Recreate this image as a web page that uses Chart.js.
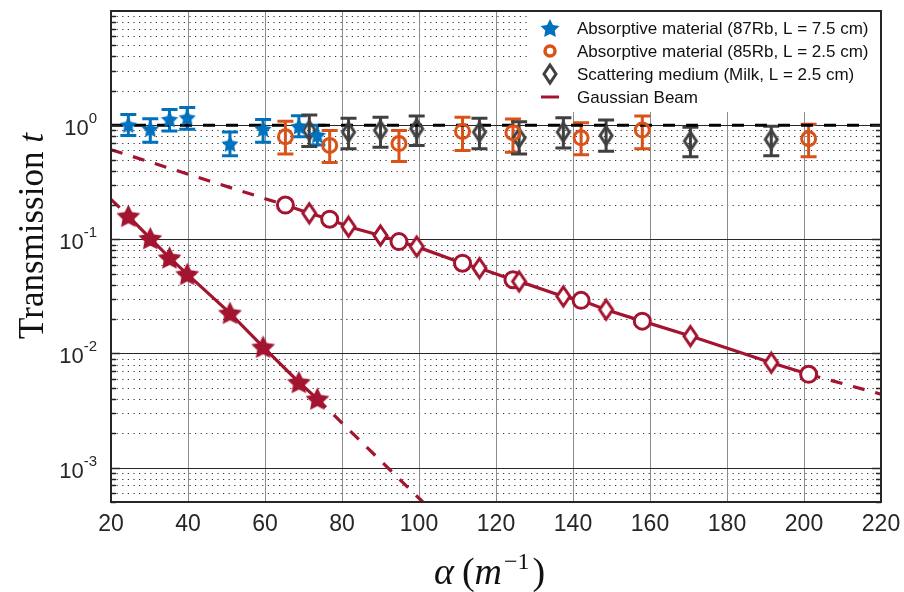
<!DOCTYPE html>
<html>
<head>
<meta charset="utf-8">
<script src="https://cdn.jsdelivr.net/npm/chart.js@4.4.0/dist/chart.umd.min.js"></script>
<style>
  html, body { margin: 0; padding: 0; background: #fff; }
</style>
</head>
<body>
<canvas id="myChart" width="904" height="592"></canvas>
<script>
// x values (alpha, m^-1) of each measurement set
const alpha87 = [24.5, 30.2, 35.2, 39.8, 50.9, 59.5, 68.8, 73.6];
const alpha85 = [65.3, 76.8, 94.8, 111.3, 124.4, 142.1, 158.0, 201.2];
const alphaMilk = [71.5, 81.7, 90.0, 99.4, 115.7, 126.0, 137.5, 148.6, 170.5, 191.5];

// measured transmission (normalised) with error bar bounds
const trans87 = [1.01, 0.93, 1.13, 1.17, 0.69, 0.93, 0.98, 0.82];
const low87 = [0.81, 0.71, 0.89, 0.92, 0.54, 0.71, 0.79, 0.67];
const high87 = [1.24, 1.14, 1.37, 1.43, 0.87, 1.12, 1.21, 1.00];

const trans85 = [0.79, 0.665, 0.69, 0.88, 0.86, 0.775, 0.905, 0.76];
const low85 = [0.56, 0.47, 0.48, 0.60, 0.58, 0.55, 0.62, 0.53];
const high85 = [1.08, 0.90, 0.90, 1.17, 1.13, 1.05, 1.20, 1.02];

const transMilk = [0.90, 0.87, 0.90, 0.93, 0.87, 0.775, 0.87, 0.81, 0.725, 0.75];
const lowMilk = [0.65, 0.62, 0.64, 0.665, 0.62, 0.56, 0.63, 0.59, 0.53, 0.54];
const highMilk = [1.23, 1.15, 1.17, 1.20, 1.15, 1.07, 1.16, 1.11, 0.96, 0.98];

// gaussian beam transmission at the same alphas
const gauss87 = [0.16, 0.102, 0.069, 0.0495, 0.0226, 0.0114, 0.0056, 0.0040];
const gauss85 = [0.1995, 0.150, 0.0955, 0.0618, 0.0443, 0.0292, 0.0192, 0.00657];
const gaussMilk = [0.169, 0.129, 0.108, 0.0863, 0.0559, 0.0428, 0.0316, 0.0242, 0.0142, 0.0083];

// dashed extensions of the gaussian curves (null = gap under the solid part)
const fit87X = [20, 24.5, 50, 73.6, 101];
const fit87Y = [0.224, 0.16, null, 0.0040, 0.0005];
const fit85X = [20, 65.3, 130, 201.2, 220];
const fit85Y = [0.61, 0.1995, null, 0.00657, 0.0044];

// reference line t = 1
const unityX = [20, 220];
const unityY = [1, 1];

const xTicks = [20, 40, 60, 80, 100, 120, 140, 160, 180, 200, 220];
const yDecades = [-3, -2, -1, 0];

const BLUE = '#0072BD';
const ORANGE = '#D95319';
const GREY = '#404040';
const RED = '#A2142F';

const pts = (xs, ys) => xs.map((x, i) => ({ x: x, y: ys[i] }));

const makeStar = (r, color) => {
    const c = document.createElement('canvas');
    const s = Math.ceil(r * 2 + 4);
    c.width = s; c.height = s;
    const g = c.getContext('2d');
    g.fillStyle = color;
    g.beginPath();
    for (let i = 0; i < 10; i++) {
        const rr = i % 2 === 0 ? r : r * 0.5;
        const a = -Math.PI / 2 + i * Math.PI / 5;
        g.lineTo(s / 2 + rr * Math.cos(a), s / 2 + 1 + rr * Math.sin(a));
    }
    g.closePath();
    g.fill();
    return c;
};

const makeDiamond = (w, h, color, fill) => {
    const c = document.createElement('canvas');
    const s = Math.ceil(Math.max(w, h) + 6);
    c.width = s; c.height = s;
    const g = c.getContext('2d');
    g.strokeStyle = color;
    g.lineWidth = 3;
    g.lineJoin = 'miter';
    g.beginPath();
    g.moveTo(s / 2, s / 2 - h / 2);
    g.lineTo(s / 2 + w / 2, s / 2);
    g.lineTo(s / 2, s / 2 + h / 2);
    g.lineTo(s / 2 - w / 2, s / 2);
    g.closePath();
    if (fill) { g.fillStyle = fill; g.fill(); }
    g.stroke();
    return c;
};

const blueStar = makeStar(9, BLUE);
const redStar = makeStar(12.5, RED);
const greyDiamond = makeDiamond(12, 18, GREY, null);
const redDiamond = makeDiamond(13, 19, RED, '#fff');
const legendStar = makeStar(10, BLUE);

// merged circle / diamond gaussian series
const merged = pts(alpha85, gauss85).map(p => ({ x: p.x, y: p.y, kind: 'c' }))
    .concat(pts(alphaMilk, gaussMilk).map(p => ({ x: p.x, y: p.y, kind: 'd' })))
    .sort((a, b) => a.x - b.x);

const errorSets = [
    { xs: alpha87, lo: low87, hi: high87, color: BLUE },
    { xs: alpha85, lo: low85, hi: high85, color: ORANGE },
    { xs: alphaMilk, lo: lowMilk, hi: highMilk, color: GREY }
];

const gridPlugin = {
    id: 'gridPlugin',
    beforeDatasetsDraw(chart) {
        const { ctx, chartArea: a, scales: { x, y } } = chart;
        ctx.save();
        // minor dotted
        ctx.strokeStyle = '#333';
        ctx.lineWidth = 1;
        ctx.setLineDash([1.2, 4.4]);
        yDecades.concat([-4]).forEach(d => {
            for (let m = 2; m <= 9; m++) {
                const v = m * Math.pow(10, d);
                if (v < y.min || v > y.max) continue;
                const py = Math.round(y.getPixelForValue(v)) + 0.5;
                ctx.beginPath(); ctx.moveTo(a.left, py); ctx.lineTo(a.right, py); ctx.stroke();
            }
        });
        ctx.setLineDash([]);
        // vertical grid
        ctx.strokeStyle = '#8c8c8c';
        xTicks.forEach(t => {
            const px = Math.round(x.getPixelForValue(t)) + 0.5;
            ctx.beginPath(); ctx.moveTo(px, a.top); ctx.lineTo(px, a.bottom); ctx.stroke();
        });
        // major horizontal
        ctx.strokeStyle = '#262626';
        yDecades.forEach(d => {
            const py = Math.round(y.getPixelForValue(Math.pow(10, d))) + 0.5;
            ctx.beginPath(); ctx.moveTo(a.left, py); ctx.lineTo(a.right, py); ctx.stroke();
        });
        // error bars
        ctx.lineWidth = 3;
        errorSets.forEach(s => {
            ctx.strokeStyle = s.color;
            s.xs.forEach((v, i) => {
                const px = x.getPixelForValue(v);
                const p1 = y.getPixelForValue(s.lo[i]);
                const p2 = y.getPixelForValue(s.hi[i]);
                ctx.beginPath();
                ctx.moveTo(px, p1); ctx.lineTo(px, p2);
                ctx.moveTo(px - 8, p1); ctx.lineTo(px + 8, p1);
                ctx.moveTo(px - 8, p2); ctx.lineTo(px + 8, p2);
                ctx.stroke();
            });
        });
        ctx.restore();
    },
    afterDatasetsDraw(chart) {
        const { ctx, chartArea: a, scales: { x, y } } = chart;
        ctx.save();
        // frame
        ctx.strokeStyle = '#262626';
        ctx.lineWidth = 2;
        ctx.strokeRect(a.left, a.top, a.right - a.left, a.bottom - a.top);
        // minor ticks on y axes
        ctx.lineWidth = 1.5;
        yDecades.concat([-4]).forEach(d => {
            for (let m = 1; m <= 9; m++) {
                const v = m * Math.pow(10, d);
                if (v < y.min || v > y.max) continue;
                const py = Math.round(y.getPixelForValue(v)) + 0.5;
                const len = m === 1 ? 9 : 5;
                ctx.beginPath();
                ctx.moveTo(a.left, py); ctx.lineTo(a.left + len, py);
                ctx.moveTo(a.right, py); ctx.lineTo(a.right - len, py);
                ctx.stroke();
            }
        });
        // legend
        ctx.fillStyle = '#fff';
        ctx.fillRect(528, a.top + 1, a.right - 529, 100);
        const rows = [28, 51, 74, 97];
        const lx = 550;
        ctx.drawImage(legendStar, lx - legendStar.width / 2, rows[0] - legendStar.height / 2);
        ctx.strokeStyle = ORANGE; ctx.lineWidth = 3.5;
        ctx.beginPath(); ctx.arc(lx, rows[1], 5, 0, Math.PI * 2); ctx.stroke();
        ctx.drawImage(greyDiamond, lx - greyDiamond.width / 2, rows[2] - greyDiamond.height / 2);
        ctx.strokeStyle = RED; ctx.lineWidth = 3;
        ctx.beginPath(); ctx.moveTo(lx - 9, rows[3]); ctx.lineTo(lx + 9, rows[3]); ctx.stroke();
        ctx.fillStyle = '#111';
        ctx.font = '17px "Liberation Sans", Arial, sans-serif';
        ctx.textBaseline = 'middle';
        ctx.textAlign = 'left';
        const labels = chart.data.datasets.filter(d => d.legendText).map(d => d.legendText);
        labels.forEach((t, i) => ctx.fillText(t, 577, rows[i] + 1));
        // y tick labels 10^n
        ctx.fillStyle = '#262626';
        ctx.textBaseline = 'alphabetic';
        yDecades.forEach(d => {
            const py = y.getPixelForValue(Math.pow(10, d));
            const sup = String(d);
            ctx.font = '15px "Liberation Sans", Arial, sans-serif';
            const sw = ctx.measureText(sup).width;
            ctx.textAlign = 'left';
            ctx.fillText(sup, 97 - sw, py - 2);
            ctx.font = '22px "Liberation Sans", Arial, sans-serif';
            ctx.textAlign = 'right';
            ctx.fillText('10', 97 - sw, py + 10);
        });
        // x tick labels
        ctx.font = '23px "Liberation Sans Narrow", "Liberation Sans", Arial, sans-serif';
        ctx.textAlign = 'center';
        ctx.textBaseline = 'middle';
        xTicks.forEach(t => ctx.fillText(String(t), x.getPixelForValue(t), a.bottom + 23));
        // axis titles
        ctx.fillStyle = '#111';
        const serif = '"Liberation Serif", "DejaVu Serif", serif';
        ctx.save();
        ctx.translate(34, 236);
        ctx.rotate(-Math.PI / 2);
        ctx.font = '35px ' + serif;
        const w1 = ctx.measureText('Transmission ').width;
        ctx.font = 'italic 35px ' + serif;
        const w2 = ctx.measureText('t').width;
        ctx.textAlign = 'left';
        ctx.font = '35px ' + serif;
        ctx.fillText('Transmission ', -(w1 + w2) / 2, 0);
        ctx.font = 'italic 35px ' + serif;
        ctx.fillText('t', -(w1 + w2) / 2 + w1, 0);
        ctx.restore();
        // x title: alpha (m^-1)
        ctx.textBaseline = 'alphabetic';
        ctx.textAlign = 'left';
        let cx = 434;
        const by = 584;
        const part = (txt, font, dy) => {
            ctx.font = font;
            ctx.fillText(txt, cx, by + (dy || 0));
            cx += ctx.measureText(txt).width;
        };
        part('\u03B1', 'italic 38px ' + serif);
        cx += 8;
        part('(', '38px ' + serif);
        part('m', 'italic 38px ' + serif);
        cx += 2;
        part('\u22121', '24px ' + serif, -15);
        cx += 3;
        part(')', '38px ' + serif);
        ctx.restore();
    }
};

const ctx = document.getElementById('myChart');
const myChart = new Chart(ctx, {
    type: 'line',
    data: {
        datasets: [
            {
                legendText: 'Absorptive material (87Rb, L = 7.5 cm)',
                data: pts(alpha87, trans87),
                showLine: false,
                pointStyle: blueStar,
                order: 1
            },
            {
                legendText: 'Absorptive material (85Rb, L = 2.5 cm)',
                data: pts(alpha85, trans85),
                showLine: false,
                pointStyle: 'circle',
                pointRadius: 7,
                pointBorderWidth: 3,
                pointBorderColor: ORANGE,
                pointBackgroundColor: 'rgba(0,0,0,0)',
                order: 1
            },
            {
                legendText: 'Scattering medium (Milk, L = 2.5 cm)',
                data: pts(alphaMilk, transMilk),
                showLine: false,
                pointStyle: greyDiamond,
                order: 1
            },
            {
                legendText: 'Gaussian Beam',
                data: pts(alpha87, gauss87),
                borderColor: RED,
                borderWidth: 3.2,
                pointStyle: redStar,
                order: 2
            },
            {
                data: merged,
                borderColor: RED,
                borderWidth: 3.2,
                pointStyle: c => (c.raw && c.raw.kind === 'd') ? redDiamond : 'circle',
                pointRadius: 8,
                pointBorderWidth: 3,
                pointBorderColor: RED,
                pointBackgroundColor: '#fff',
                order: 2
            },
            {
                data: pts(fit87X, fit87Y),
                borderColor: RED,
                borderWidth: 3.2,
                borderDash: [12, 11],
                pointRadius: 0,
                order: 3
            },
            {
                data: pts(fit85X, fit85Y),
                borderColor: RED,
                borderWidth: 3.2,
                borderDash: [12, 11],
                pointRadius: 0,
                order: 3
            },
            {
                data: pts(unityX, unityY),
                borderColor: '#000',
                borderWidth: 3,
                borderDash: [12, 11],
                pointRadius: 0,
                order: 3
            }
        ]
    },
    options: {
        responsive: false,
        animation: false,
        devicePixelRatio: 1,
        clip: false,
        layout: { padding: { left: 111, right: 23, top: 7, bottom: 90 } },
        plugins: { legend: { display: false }, tooltip: { enabled: false } },
        scales: {
            x: {
                type: 'linear', min: 20, max: 220,
                ticks: { display: false, stepSize: 20 },
                grid: { display: false },
                border: { display: false },
                afterFit: s => { s.height = 0; }
            },
            y: {
                type: 'logarithmic', min: 0.0005, max: 10,
                ticks: { display: false },
                grid: { display: false },
                border: { display: false },
                afterFit: s => { s.width = 0; }
            }
        }
    },
    plugins: [gridPlugin]
});
</script>
</body>
</html>
